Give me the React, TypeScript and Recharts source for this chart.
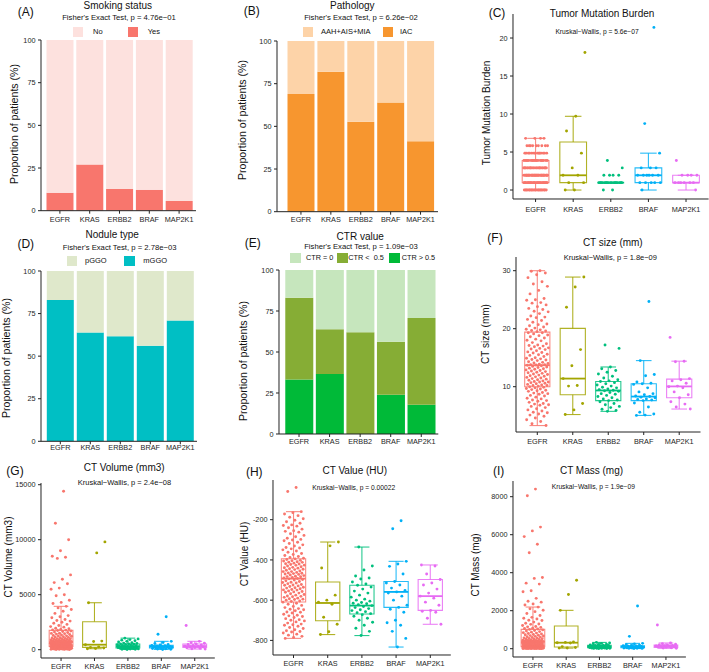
import React from 'react';
import {
  BarChart,
  Bar,
  XAxis,
  YAxis,
  ComposedChart,
  Scatter,
  ReferenceArea,
  ReferenceLine,
} from 'recharts';

const FONT = '"Liberation Sans", Arial, Helvetica, sans-serif';
const genes = ['EGFR', 'KRAS', 'ERBB2', 'BRAF', 'MAP2K1'];
const geneColors = ['#F8766D', '#A3A500', '#00BF7D', '#00B0F6', '#E76BF3'];

// (A) Smoking status (%)
const smokingYes = [10.5, 27.1, 12.7, 12.3, 5.7];
const smokingNo = [89.5, 72.9, 87.3, 87.7, 94.3];
// (B) Pathology (%)
const pathIAC = [68.9, 82.0, 52.7, 64.0, 41.2];
const pathAAH = [31.1, 18.0, 47.3, 36.0, 58.8];
// (D) Nodule type (%)
const noduleMGGO = [83.0, 63.9, 61.7, 56.1, 70.9];
const nodulePGGO = [17.0, 36.1, 38.3, 43.9, 29.1];
// (E) CTR value (%)
const ctrHigh = [33.3, 36.6, 0, 24.0, 17.9];
const ctrLow = [49.8, 27.2, 62.0, 32.3, 52.8];
const ctrZero = [16.9, 36.2, 38.0, 43.7, 29.3];

// (C) Tumor mutation burden
const tmbLevels = [0, 0.97, 1.94, 2.91, 3.88, 4.85, 5.83, 6.8];
const tmbEGFRCounts = [20, 30, 30, 25, 18, 14, 9, 4];
const tmbKRAS = [18.1, 9.7, 7.77, 4.85, 2.91, 1.94, 1.94, 0.97, 0.97, 0, 0];
const tmbERBB2 = [3.88, 2.91, 1.94, 1.94, 1.94, 1.94, 0.97, 0.97, 0.97, 0.97, 0.97, 0.97, 0.97, 0.97, 0.97, 0.97, 0.97, 0.97, 0.97, 0.97, 0.97, 0.97, 0.97, 0, 0];
const tmbBRAF = [21.4, 8.74, 4.85, 2.91, 2.91, 2.91, 1.94, 1.94, 1.94, 1.94, 1.94, 1.94, 0.97, 0.97, 0.97, 0.97, 0.97, 0];
const tmbMAP2K1 = [3.88, 1.94, 1.94, 1.94, 1.94, 0.97, 0.97, 0.97, 0.97, 0.97, 0.97, 0];
const tmbStats = [
  [0, 0.97, 1.94, 3.88, 6.8],
  [0, 0.97, 1.94, 6.31, 9.7],
  [0.97, 0.97, 0.97, 0.97, 0.97],
  [0, 0.97, 1.94, 2.91, 4.85],
  [0, 0.97, 0.97, 1.94, 1.94],
];

// (F) CT size (mm)
const sizeEGFR = [30.0, 29.9, 29.6, 29.3, 28.8, 28.1, 27.7, 27.3, 26.6, 26.0, 25.2, 25.0, 24.9, 24.5, 24.4, 24.1, 23.8, 23.5, 23.3, 23.0, 22.9, 22.6, 22.2, 22.0, 21.9, 21.6, 21.4, 21.1, 20.8, 20.7, 20.5, 20.3, 20.1, 19.9, 19.8, 19.7, 19.6, 19.5, 19.3, 19.3,
  19.1, 18.9, 18.8, 18.6, 18.4, 18.2, 18.0, 17.9, 17.6, 17.4, 17.2, 17.1, 17.0, 16.9, 16.7, 16.6, 16.5, 16.4, 16.2, 16.0, 15.9, 15.8, 15.6, 15.5, 15.4, 15.2, 15.0, 14.9, 14.8, 14.7, 14.6, 14.5, 14.3, 14.2, 14.1, 14.0, 13.9, 13.8, 13.8, 13.75,
  13.7, 13.6, 13.5, 13.4, 13.3, 13.2, 13.1, 13.0, 12.9, 12.8, 12.7, 12.6, 12.5, 12.4, 12.3, 12.2, 12.1, 12.0, 11.9, 11.8, 11.7, 11.6, 11.5, 11.4, 11.3, 11.2, 11.1, 11.0, 10.9, 10.8, 10.8, 10.7, 10.6, 10.5, 10.4, 10.3, 10.2, 10.2, 10.1, 10.0,
  9.9, 9.8, 9.7, 9.6, 9.5, 9.4, 9.3, 9.2, 9.0, 8.9, 8.8, 8.7, 8.5, 8.4, 8.2, 8.0, 7.9, 7.7, 7.6, 7.5, 7.3, 7.1, 7.0, 6.9, 6.8, 6.6, 6.4, 6.2, 6.0, 5.8, 5.6, 5.5, 5.3, 5.1, 4.9, 4.6, 4.3, 4.0, 3.6, 3.3];
const sizeKRAS = [28.9, 27.2, 23.7, 16.4, 13.6, 11.4, 10.2, 10.1, 7.1, 6.0, 5.2];
const sizeERBB2 = [17.2, 16.6, 13.4, 13.1, 12.8, 12.5, 12.2, 11.8, 11.5, 11.2, 11.0, 10.9, 10.7, 10.5, 10.3, 10.1, 9.9, 9.8, 9.6, 9.5, 9.4, 9.3, 9.2, 9.0, 8.8, 8.7, 8.5, 8.3, 8.1, 7.9, 7.7, 7.6, 7.4, 7.1, 6.9, 6.6, 6.4, 6.1, 5.9, 5.75];
const sizeBRAF = [24.7, 14.5, 12.1, 11.9, 10.8, 10.6, 10.5, 10.4, 9.8, 9.1, 8.8, 8.6, 8.4, 8.3, 8.2, 8.1, 7.9, 7.8, 7.7, 7.6, 7.2, 6.5, 5.6, 5.3, 5.1, 5.05];
const sizeMAP2K1 = [18.5, 14.4, 14.3, 11.4, 11.2, 11.0, 10.6, 10.1, 10.0, 9.8, 9.1, 8.6, 8.1, 7.4, 7.0, 6.5, 6.15];
const sizeStats = [
  [3.3, 10.0, 13.7, 19.4, 30.0],
  [5.2, 8.6, 11.4, 20.05, 28.9],
  [5.75, 7.6, 9.35, 10.9, 13.4],
  [5.05, 7.6, 8.3, 10.5, 14.5],
  [6.15, 8.1, 10.05, 11.3, 14.4],
];

// (G) CT volume (mm3)
const volEGFR = [14400, 11500, 10000, 9000, 8500, 8400, 8300, 6800, 6400, 6100, 6000, 5600, 5500, 5000, 4900, 4500, 4300, 4200,
  3940, 3800, 3650, 3500, 3300, 3100, 3000, 2900, 2750, 2650, 2600, 2500, 2400, 2300, 2200, 2100, 2050, 1950, 1900, 1850, 1800, 1780,
  1750, 1700, 1650, 1600, 1560, 1500, 1480, 1460, 1420, 1380, 1340, 1300, 1260, 1240, 1220, 1180, 1150, 1120, 1090, 1060, 1030, 1010, 1000, 975, 950, 925, 900, 880, 870, 860, 840, 820, 800, 785, 770, 755, 740, 725, 710, 700,
  695, 680, 665, 650, 635, 620, 612, 605, 590, 575, 571, 560, 545, 530, 528, 515, 500, 490, 480, 470, 460, 450, 447, 440, 430, 420, 410, 400, 390, 386, 380, 370, 360, 350, 340, 333, 330, 320, 310, 305,
  300, 290, 280, 270, 265, 260, 250, 245, 240, 230, 220, 215, 210, 200, 190, 185, 180, 170, 160, 155, 150, 140, 135, 130, 120, 110, 100, 95, 90, 80, 75, 70, 60, 55, 50, 40, 30, 25, 20, 12];
const volKRAS = [9800, 8800, 4270, 780, 750, 455, 260, 200, 150, 100, 90];
const volERBB2 = [1050, 980, 920, 870, 820, 760, 700, 640, 600, 560, 530, 515, 500, 470, 450, 420, 390, 360, 340, 320, 300, 290, 270, 250, 230, 215, 200, 185, 170, 160, 150, 140, 120, 100, 85, 70, 55, 40, 30, 20];
const volBRAF = [3000, 1400, 760, 650, 560, 480, 420, 390, 360, 330, 300, 280, 270, 250, 230, 210, 190, 170, 150, 130, 110, 80, 60, 40, 20];
const volMAP2K1 = [2200, 760, 640, 580, 515, 470, 420, 380, 330, 300, 270, 240, 210, 170, 130, 90, 60];
const volStats = [
  [12, 303, 697, 1758, 3940],
  [90, 212, 455, 2545, 4270],
  [20, 150, 300, 515, 1050],
  [20, 150, 270, 390, 760],
  [60, 210, 330, 515, 760],
];

// (H) CT value (HU)
const huEGFR = [-40, -60, -160, -165, -172, -180, -188, -195, -203, -210, -218, -226, -229, -232, -240, -247, -255, -258, -262, -270, -278, -285, -292, -298, -301, -305, -312, -318, -325, -331, -338, -341, -345, -350, -356, -362, -368, -373, -378, -383, -388, -392,
  -395, -398, -402, -404, -405, -409, -411, -412, -416, -419, -420, -423, -426, -427, -430, -434, -437, -439, -441, -444, -446, -448, -451, -455, -458, -458, -462, -465, -466, -468, -470, -472, -475, -478, -481, -483, -484, -487, -490, -492,
  -494, -497, -500, -504, -507, -511, -512, -515, -518, -522, -525, -526, -529, -532, -536, -538, -540, -543, -547, -549, -550, -554, -557, -559, -561, -565, -568, -572, -575, -579, -581, -583, -586, -590, -593, -595, -597, -600, -604, -607,
  -610, -615, -620, -626, -631, -637, -642, -645, -648, -653, -659, -660, -664, -670, -675, -678, -681, -686, -692, -697, -700, -703, -708, -714, -719, -722, -725, -730, -736, -741, -747, -752, -756, -758, -763, -769, -774, -780, -785, -790];
const huKRAS = [-311, -330, -440, -575, -600, -610, -620, -685, -720, -757, -771];
const huERBB2 = [-336, -430, -450, -480, -490, -495, -510, -520, -526, -535, -545, -555, -565, -575, -585, -595, -600, -605, -612, -615, -618, -622, -627, -632, -637, -642, -648, -652, -657, -662, -667, -672, -680, -690, -700, -710, -725, -740, -755, -776];
const huBRAF = [-205, -245, -407, -420, -432, -470, -507, -515, -525, -540, -552, -559, -565, -580, -600, -625, -636, -645, -660, -700, -712, -725, -755, -790, -833];
const huMAP2K1 = [-425, -430, -470, -497, -515, -525, -545, -565, -580, -590, -610, -625, -651, -655, -660, -690, -720];
const huStats = [
  [-790, -609, -493, -394, -160],
  [-771, -702, -614, -510, -311],
  [-776, -669, -627, -526, -336],
  [-833, -636, -559, -507, -407],
  [-720, -651, -580, -497, -425],
];

// (I) CT mass (mg)
const massEGFR = [8400, 8050, 6400, 6200, 5900, 5500, 5050, 3750, 3700, 3450, 3400, 3050, 3000, 2650, 2500, 2450, 2350, 2300,
  2190, 2100, 2020, 1950, 1850, 1750, 1650, 1600, 1560, 1500, 1480, 1400, 1340, 1300, 1280, 1220, 1170, 1150, 1120, 1080, 1060, 1040,
  1015, 990, 960, 930, 900, 870, 845, 820, 800, 775, 750, 730, 710, 690, 670, 650, 630, 610, 590, 570, 555, 540, 525, 510, 495, 480, 465, 450, 440, 430, 420, 410, 400, 395, 390, 385, 380, 375, 372, 370,
  366, 360, 352, 345, 338, 330, 322, 315, 308, 300, 292, 285, 278, 270, 262, 255, 248, 240, 232, 225, 218, 210, 202, 195, 188, 180, 172, 165, 158, 150, 143, 136, 130, 124, 118, 114, 111, 109, 107, 106,
  104, 102, 100, 97, 94, 91, 88, 85, 82, 79, 76, 73, 70, 67, 64, 61, 58, 55, 52, 49, 46, 43, 40, 37, 34, 31, 28, 25, 22, 20, 18, 16, 14, 12, 10, 8, 6, 5, 4, 3];
const massKRAS = [3600, 2850, 2018, 350, 330, 316, 300, 110, 60, 40, 30];
const massERBB2 = [330, 300, 280, 260, 240, 220, 200, 185, 175, 165, 155, 145, 135, 125, 118, 110, 110, 105, 100, 95, 90, 85, 80, 75, 70, 65, 60, 55, 53, 50, 45, 40, 35, 30, 26, 22, 18, 15, 12, 10];
const massBRAF = [2250, 650, 280, 250, 220, 190, 170, 158, 140, 125, 115, 105, 100, 90, 80, 70, 60, 53, 45, 38, 30, 25, 20, 15, 10];
const massMAP2K1 = [1250, 300, 260, 230, 200, 193, 175, 160, 140, 125, 110, 95, 80, 70, 50, 35, 20];
const massStats = [
  [3, 105, 368, 1018, 2193],
  [30, 88, 316, 1193, 2018],
  [10, 53, 105, 175, 330],
  [10, 53, 105, 158, 280],
  [20, 70, 140, 193, 300],
];

const YW = 40;
const XH = 30;
const MT = 5;
const MR = 5;
const AXIS = '#222';
const TICK_TEXT = '#262626';

type Spec = { pl: number; pt: number; pr: number; pb: number; xm: number };

function frame(s: Spec) {
  return {
    left: s.pl - YW,
    top: s.pt - MT,
    width: s.pr - s.pl + YW + MR,
    height: s.pb - s.pt + MT + XH,
  };
}

const tickStyle = { fontSize: 7.3, fill: TICK_TEXT, fontFamily: FONT };

type Series = { values: number[]; color: string };

function BarPanel({ spec, padL, padR, series }: { spec: Spec; padL: number; padR: number; series: Series[] }) {
  const f = frame(spec);
  const data = genes.map((g, i) => {
    const row: any = { gene: g };
    series.forEach((s, j) => {
      row['s' + j] = s.values[i];
    });
    return row;
  });
  return (
    <div style={{ position: 'absolute', left: f.left, top: f.top }}>
      <BarChart
        width={f.width}
        height={f.height}
        data={data}
        margin={{ top: MT, right: MR, left: 0, bottom: 0 }}
        barCategoryGap="5%"
      >
        <XAxis
          dataKey="gene"
          height={XH}
          padding={{ left: padL, right: padR }}
          interval={0}
          tickSize={3}
          tickMargin={spec.xm}
          tick={tickStyle}
          axisLine={{ stroke: AXIS, strokeWidth: 1 }}
          tickLine={{ stroke: AXIS }}
        />
        <YAxis
          type="number"
          width={YW}
          domain={[0, 100]}
          ticks={[0, 25, 50, 75, 100]}
          allowDataOverflow
          interval={0}
          tickSize={3}
          tickMargin={2.5}
          tick={tickStyle}
          axisLine={{ stroke: AXIS, strokeWidth: 1 }}
          tickLine={{ stroke: AXIS }}
        />
        {series.map((s, j) => (
          <Bar key={j} dataKey={'s' + j} stackId="a" fill={s.color} isAnimationActive={false} />
        ))}
      </BarChart>
    </div>
  );
}

const jitter = (k: number, g: number) => (((k + 1) * 0.6180339887 + g * 0.37) % 1 - 0.5) * 0.64;

function BoxPanel({
  spec,
  domain,
  ticks,
  groups,
  stats,
}: {
  spec: Spec;
  domain: [number, number];
  ticks: number[];
  groups: number[][];
  stats: number[][];
}) {
  const f = frame(spec);
  const bw = 0.355;
  const cw = 0.22;
  return (
    <div style={{ position: 'absolute', left: f.left, top: f.top }}>
      <ComposedChart width={f.width} height={f.height} margin={{ top: MT, right: MR, left: 0, bottom: 0 }}>
        <XAxis
          type="number"
          dataKey="x"
          domain={[0.4, 5.6]}
          ticks={[1, 2, 3, 4, 5]}
          allowDataOverflow
          interval={0}
          tickFormatter={(v: number) => genes[Math.round(v) - 1]}
          height={XH}
          tickSize={3}
          tickMargin={spec.xm}
          tick={tickStyle}
          axisLine={{ stroke: AXIS, strokeWidth: 1 }}
          tickLine={{ stroke: AXIS }}
        />
        <YAxis
          type="number"
          dataKey="y"
          domain={domain}
          ticks={ticks}
          allowDataOverflow
          interval={0}
          width={YW}
          tickSize={3}
          tickMargin={2.5}
          tick={tickStyle}
          axisLine={{ stroke: AXIS, strokeWidth: 1 }}
          tickLine={{ stroke: AXIS }}
        />
        {stats.flatMap((s, g) => {
          const c = geneColors[g];
          const x = g + 1;
          const lineProps = { stroke: c, strokeWidth: 1.1, strokeOpacity: 0.85, ifOverflow: 'visible' as const };
          return [
            <ReferenceLine key={'wl' + g} segment={[{ x, y: s[0] }, { x, y: s[1] }]} {...lineProps} />,
            <ReferenceLine key={'wh' + g} segment={[{ x, y: s[3] }, { x, y: s[4] }]} {...lineProps} />,
            <ReferenceLine key={'cl' + g} segment={[{ x: x - cw, y: s[0] }, { x: x + cw, y: s[0] }]} {...lineProps} />,
            <ReferenceLine key={'ch' + g} segment={[{ x: x - cw, y: s[4] }, { x: x + cw, y: s[4] }]} {...lineProps} />,
            <ReferenceArea
              key={'b' + g}
              x1={x - bw}
              x2={x + bw}
              y1={s[1]}
              y2={s[3]}
              fill="#ffffff"
              fillOpacity={0}
              stroke={c}
              strokeWidth={1.1}
              strokeOpacity={0.85}
              ifOverflow="visible"
            />,
            <ReferenceLine key={'m' + g} segment={[{ x: x - bw, y: s[2] }, { x: x + bw, y: s[2] }]} stroke={c} strokeWidth={1.8} ifOverflow="visible" />,
          ];
        })}
        {groups.map((vals, g) => {
          const c = geneColors[g];
          const pts = vals.map((v, k) => ({ x: g + 1 + jitter(k, g), y: v }));
          return (
            <Scatter
              key={'s' + g}
              data={pts}
              fill={c}
              isAnimationActive={false}
              shape={(p: any) => <circle cx={p.cx} cy={p.cy} r={1.45} fill={c} />}
            />
          );
        })}
      </ComposedChart>
    </div>
  );
}

function Txt({
  x,
  y,
  size,
  children,
  left = false,
  rotate = false,
}: {
  x: number;
  y: number;
  size: number;
  children: React.ReactNode;
  left?: boolean;
  rotate?: boolean;
}) {
  const tr = left ? 'translate(0,-50%)' : rotate ? 'translate(-50%,-50%) rotate(-90deg)' : 'translate(-50%,-50%)';
  return (
    <div
      style={{
        position: 'absolute',
        left: x,
        top: y,
        transform: tr,
        fontSize: size,
        lineHeight: 1,
        whiteSpace: 'pre',
        fontFamily: FONT,
        color: '#111',
      }}
    >
      {children}
    </div>
  );
}

function Swatch({ x, y, color }: { x: number; y: number; color: string }) {
  return <div style={{ position: 'absolute', left: x, top: y, width: 10.5, height: 10, background: color }} />;
}

const cA = { no: '#FDE1DE', yes: '#F8766D' };
const cB = { aah: '#FDD3A8', iac: '#F7962F' };
const cD = { p: '#DFE8CB', m: '#00BFC4' };
const cE = { zero: '#C6E6BD', low: '#86AD35', high: '#00BA38' };

export default function App() {
  const tmbEGFR: number[] = [];
  tmbLevels.forEach((lv, i) => {
    for (let n = 0; n < tmbEGFRCounts[i]; n++) tmbEGFR.push(lv);
  });
  return (
    <div
      style={{
        position: 'absolute',
        left: 0,
        top: 0,
        width: 709,
        height: 672,
        overflow: 'hidden',
        background: '#ffffff',
        fontFamily: FONT,
      }}
    >
      {/* Bar panels */}
      <BarPanel
        spec={{ pl: 41, pt: 40.3, pr: 196, pb: 211, xm: 2.7 }}
        padL={4}
        padR={2}
        series={[
          { values: smokingYes, color: cA.yes },
          { values: smokingNo, color: cA.no },
        ]}
      />
      <BarPanel
        spec={{ pl: 277, pt: 41.3, pr: 438, pb: 212, xm: 2.4 }}
        padL={9}
        padR={2.5}
        series={[
          { values: pathIAC, color: cB.iac },
          { values: pathAAH, color: cB.aah },
        ]}
      />
      <BarPanel
        spec={{ pl: 41, pt: 270.7, pr: 197, pb: 441, xm: 1 }}
        padL={4.3}
        padR={1.7}
        series={[
          { values: noduleMGGO, color: cD.m },
          { values: nodulePGGO, color: cD.p },
        ]}
      />
      <BarPanel
        spec={{ pl: 278.7, pt: 270.3, pr: 438, pb: 434.3, xm: 1.4 }}
        padL={4.75}
        padR={1.75}
        series={[
          { values: ctrHigh, color: cE.high },
          { values: ctrLow, color: cE.low },
          { values: ctrZero, color: cE.zero },
        ]}
      />

      {/* Box panels */}
      <BoxPanel
        spec={{ pl: 512.7, pt: 14, pr: 708.3, pb: 199, xm: 4.7 }}
        domain={[-1.18, 23.16]}
        ticks={[0, 5, 10, 15, 20]}
        groups={[tmbEGFR, tmbKRAS, tmbERBB2, tmbBRAF, tmbMAP2K1]}
        stats={tmbStats}
      />
      <BoxPanel
        spec={{ pl: 515.5, pt: 257.3, pr: 700, pb: 432.3, xm: 3.8 }}
        domain={[2.19, 32.36]}
        ticks={[10, 20, 30]}
        groups={[sizeEGFR, sizeKRAS, sizeERBB2, sizeBRAF, sizeMAP2K1]}
        stats={sizeStats}
      />
      <BoxPanel
        spec={{ pl: 40.5, pt: 483, pr: 214.3, pb: 658, xm: 2.7 }}
        domain={[-755, 15155]}
        ticks={[0, 5000, 10000, 15000]}
        groups={[volEGFR, volKRAS, volERBB2, volBRAF, volMAP2K1]}
        stats={volStats}
      />
      <BoxPanel
        spec={{ pl: 273, pt: 480.3, pr: 450.8, pb: 655.3, xm: 3.1 }}
        domain={[-872.6, -2.7]}
        ticks={[-800, -600, -400, -200]}
        groups={[huEGFR, huKRAS, huERBB2, huBRAF, huMAP2K1]}
        stats={huStats}
      />
      <BoxPanel
        spec={{ pl: 513.2, pt: 481.3, pr: 686.1, pb: 657.3, xm: 2.4 }}
        domain={[-437, 8826]}
        ticks={[0, 2000, 4000, 6000, 8000]}
        groups={[massEGFR, massKRAS, massERBB2, massBRAF, massMAP2K1]}
        stats={massStats}
      />

      {/* Panel letters */}
      <Txt x={25.8} y={11.7} size={12}>(A)</Txt>
      <Txt x={251.8} y={10.8} size={12}>(B)</Txt>
      <Txt x={497} y={12.5} size={12}>(C)</Txt>
      <Txt x={25.8} y={244} size={12}>(D)</Txt>
      <Txt x={252.7} y={243.2} size={12}>(E)</Txt>
      <Txt x={495} y={238.2} size={12}>(F)</Txt>
      <Txt x={15} y={471} size={12}>(G)</Txt>
      <Txt x={254.3} y={471.8} size={12}>(H)</Txt>
      <Txt x={498.7} y={471} size={12}>(I)</Txt>

      {/* Titles */}
      <Txt x={117.8} y={5.5} size={10}>Smoking status</Txt>
      <Txt x={352.3} y={5.5} size={10}>Pathology</Txt>
      <Txt x={602} y={14.2} size={10}>Tumor Mutation Burden</Txt>
      <Txt x={112.2} y={235.3} size={10}>Nodule type</Txt>
      <Txt x={360.2} y={236.8} size={10}>CTR value</Txt>
      <Txt x={612.8} y={242.7} size={10}>CT size (mm)</Txt>
      <Txt x={124.2} y={467.5} size={10}>CT Volume (mm3)</Txt>
      <Txt x={354.8} y={471.3} size={10}>CT Value (HU)</Txt>
      <Txt x={591.5} y={471.3} size={10}>CT Mass (mg)</Txt>

      {/* Subtitles */}
      <Txt x={119} y={18.3} size={7.7}>Fisher's Exact Test, p = 4.76e−01</Txt>
      <Txt x={361} y={18.3} size={7.7}>Fisher's Exact Test, p = 6.26e−02</Txt>
      <Txt x={119.7} y={248.2} size={7.7}>Fisher's Exact Test, p = 2.78e−03</Txt>
      <Txt x={361} y={247.3} size={7.7}>Fisher's Exact Test, p = 1.09e−03</Txt>
      <Txt x={597} y={31.8} size={6.7}>Kruskal−Wallis, p = 5.6e−07</Txt>
      <Txt x={610.3} y={257.7} size={7.5}>Kruskal−Wallis, p = 1.8e−09</Txt>
      <Txt x={124.5} y={483} size={7.5}>Kruskal−Wallis, p = 2.4e−08</Txt>
      <Txt x={353.7} y={487.7} size={6.7}>Kruskal−Wallis, p = 0.00022</Txt>
      <Txt x={593.3} y={487.3} size={6.7}>Kruskal−Wallis, p = 1.9e−09</Txt>

      {/* Y axis titles */}
      <Txt x={14} y={124.2} size={10.6} rotate>Proportion of patients (%)</Txt>
      <Txt x={241.8} y={120} size={10.6} rotate>Proportion of patients (%)</Txt>
      <Txt x={6.2} y={358.2} size={10.6} rotate>Proportion of patients (%)</Txt>
      <Txt x={242.7} y={360.7} size={10.6} rotate>Proportion of patients (%)</Txt>
      <Txt x={487} y={112.5} size={10} rotate>Tumor Mutation Burden</Txt>
      <Txt x={486.2} y={334} size={10} rotate>CT size (mm)</Txt>
      <Txt x={9.2} y={557.2} size={10} rotate>CT Volume (mm3)</Txt>
      <Txt x={245.2} y={553.8} size={10} rotate>CT Value (HU)</Txt>
      <Txt x={476} y={564.7} size={10} rotate>CT Mass (mg)</Txt>

      {/* Legends */}
      <Swatch x={72.7} y={27.3} color={cA.no} />
      <Txt x={93} y={32} size={7.5} left>No</Txt>
      <Swatch x={127.7} y={27.3} color={cA.yes} />
      <Txt x={147.7} y={32} size={7.5} left>Yes</Txt>

      <Swatch x={302.7} y={27.3} color={cB.aah} />
      <Txt x={321} y={32} size={7.5} left>AAH+AIS+MIA</Txt>
      <Swatch x={382.7} y={27.3} color={cB.iac} />
      <Txt x={400} y={32} size={7.5} left>IAC</Txt>

      <Swatch x={66.7} y={256.3} color={cD.p} />
      <Txt x={85} y={261.3} size={7.5} left>pGGO</Txt>
      <Swatch x={124.3} y={256.3} color={cD.m} />
      <Txt x={143.3} y={261.3} size={7.5} left>mGGO</Txt>

      <Swatch x={290.3} y={253} color={cE.zero} />
      <Txt x={306} y={258} size={7.3} left>CTR = 0</Txt>
      <Swatch x={337} y={253} color={cE.low} />
      <Txt x={348.3} y={258} size={7.3} left>CTR {'<'}  0.5</Txt>
      <Swatch x={389.3} y={253} color={cE.high} />
      <Txt x={401.7} y={258} size={7.3} left>CTR {'>'} 0.5</Txt>
    </div>
  );
}
